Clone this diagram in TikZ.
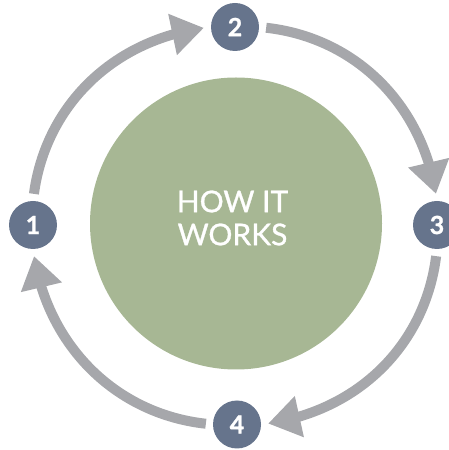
\documentclass[tikz,border=0pt]{standalone}
\usepackage{fontspec}
\setmainfont{Lato}
\newfontfamily\titlefont{Lato}[FakeBold=1]
\newfontfamily\numfont{Lato Bold}[FakeBold=1]
\usetikzlibrary{arrows.meta,bending}
\definecolor{stepblue}{HTML}{66748C}
\definecolor{ringgray}{HTML}{A6A7AB}
\definecolor{hubgreen}{HTML}{A7B794}
\begin{document}
\begin{tikzpicture}[x=1pt,y=1pt,
	num/.style={circle,fill=stepblue,text=white,minimum size=48pt,inner sep=0pt,font=\numfont\fontsize{25}{25}\selectfont},
	flow/.style={ringgray,line width=10pt,-{Triangle[width=40pt,length=32pt]},shorten <=7pt,shorten >=7pt}]
	\useasboundingbox (0,0) rectangle (448,450);
	\node[circle,fill=hubgreen,minimum size=292pt,inner sep=0pt] (hub) at (236,226.5) {};
	\node[text=white,align=center,font=\titlefont\fontsize{30}{33}\selectfont] (title) at (232.5,232) {HOW IT\\WORKS};
	\node[num] (n1) at (33,225) {1};
	\node[num] (n2) at (235,423) {2};
	\node[num] (n3) at (437,225) {3};
	\node[num] (n4) at (237,25.5) {4};
	\draw[flow] (n1.north) to[bend left=38] (n2.west);
	\draw[flow] (n2.east) to[bend left=38] (n3.north);
	\draw[flow] (n3.south) to[bend left=38] (n4.east);
	\draw[flow] (n4.west) to[bend left=38] (n1.south);
\end{tikzpicture}
\end{document}
